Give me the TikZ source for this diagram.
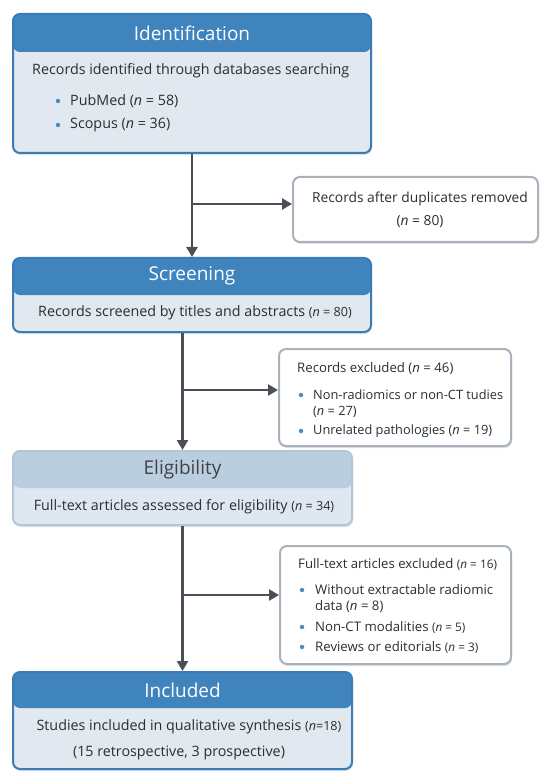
\documentclass[tikz,border=0pt]{standalone}
\usepackage{fontspec}
\setmainfont{Open Sans}
\usetikzlibrary{arrows.meta}
\definecolor{hdrblue}{HTML}{3F84BD}
\definecolor{bodyblue}{HTML}{E1E8F0}
\definecolor{edgeblue}{HTML}{3A7DB6}
\definecolor{hdrgray}{HTML}{BBCEE0}
\definecolor{bodygray}{HTML}{DFE7F0}
\definecolor{edgegray}{HTML}{B3C6D8}
\definecolor{sideedge}{HTML}{A9B2BB}
\definecolor{arrowc}{HTML}{4B5057}
\definecolor{txt}{HTML}{2A2E33}
\definecolor{dotc}{HTML}{4A8CC4}
\definecolor{shadowc}{HTML}{C9CFD6}
\newcommand{\sm}[1]{{\fontsize{12.6}{15}\selectfont #1}}
\newcommand{\ssm}[1]{{\fontsize{11.8}{14}\selectfont #1}}
\begin{document}
\begin{tikzpicture}[x=1pt,y=-1pt,
  shad/.style={preaction={fill=shadowc, opacity=0.6, transform canvas={xshift=1pt,yshift=-2pt}}},
  mainbox/.style={shad, draw=edgeblue, line width=2pt, fill=bodyblue, rounded corners=7pt, inner sep=0pt,
    path picture={\fill[hdrblue] (path picture bounding box.north west) rectangle ([yshift=-#1]path picture bounding box.north east);}},
  mainbox/.default=38pt,
  eligbox/.style={shad, draw=edgegray, line width=2pt, fill=bodygray, rounded corners=7pt, inner sep=0pt,
    path picture={\fill[hdrgray] (path picture bounding box.north west) rectangle ([yshift=-37pt]path picture bounding box.north east);}},
  sidebox/.style={shad, draw=sideedge, line width=2pt, fill=white, rounded corners=7pt, inner sep=0pt},
  hdr/.style={text=white, font=\fontsize{19}{22}\selectfont},
  hdrdark/.style={text=txt!90, font=\fontsize{19}{22}\selectfont},
  body/.style={text=txt, font=\fontsize{14.3}{17}\selectfont, inner sep=0pt},
  side/.style={text=txt, font=\fontsize{13.2}{16}\selectfont, inner sep=0pt},
  lbl/.style={side, anchor=west},
  bul/.style={circle, fill=dotc, inner sep=0pt, minimum size=4.5pt},
  flow/.style={draw=arrowc, line width=2.6pt, -{Triangle[length=10pt,width=11pt]}},
]
\useasboundingbox (0,0) rectangle (550,783);

% Identification
\node[mainbox, minimum width=358pt, minimum height=139pt] (idb) at (192,83.5) {};
\node[hdr] (idh) at (192,33) {Identification};
\node[body, anchor=west] (idt) at (32,71) {Records identified through databases searching};
\node[bul] (idd1) at (58,101) {};
\node[body, anchor=west] (idl1) at (70,101) {PubMed (\textit{n} = 58)};
\node[bul] (idd2) at (58,125) {};
\node[body, anchor=west] (idl2) at (70,125) {Scopus (\textit{n} = 36)};

% Duplicates
\node[sidebox, minimum width=245pt, minimum height=65pt] (dup) at (415.5,209.5) {};
\node[body, font=\fontsize{13.8}{16}\selectfont] (dupt) at (420,199) {Records after duplicates removed};
\node[body, font=\fontsize{13.8}{16}\selectfont] (dupn) at (420,222) {(\textit{n} = 80)};

% Screening
\node[mainbox=37pt, minimum width=358pt, minimum height=74pt] (scr) at (192,295) {};
\node[hdr] (scrh) at (192,276) {Screening};
\node[body] (scrt) at (195,313) {Records screened by titles and abstracts \sm{(\textit{n} = 80)}};

% Records excluded
\node[sidebox, minimum width=232pt, minimum height=97pt] (rex) at (395,397.5) {};
\node[lbl] (rext) at (297,369) {Records excluded (\textit{n} = 46)};
\node[bul] (rexd1) at (301,395) {};
\node[lbl, font=\fontsize{12.8}{15}\selectfont] (rexl1) at (313,395) {Non-radiomics or non-CT tudies};
\node[lbl, font=\fontsize{12.8}{15}\selectfont] (rexl1b) at (313,412) {(\textit{n} = 27)};
\node[bul] (rexd2) at (301,431) {};
\node[lbl, font=\fontsize{12.8}{15}\selectfont] (rexl2) at (313,431) {Unrelated pathologies (\textit{n} = 19)};

% Eligibility
\node[eligbox, minimum width=339pt, minimum height=74pt] (eli) at (182.5,488) {};
\node[hdrdark] (elih) at (182.5,470) {Eligibility};
\node[body] (elit) at (184,507) {Full-text articles assessed for eligibility \sm{(\textit{n} = 34)}};

% Full-text excluded
\node[sidebox, minimum width=231pt, minimum height=118pt] (fex) at (395.5,605) {};
\node[lbl] (fext) at (298,564) {Full-text articles excluded \ssm{(\textit{n} = 16)}};
\node[bul] (fexd1) at (302,590) {};
\node[lbl] (fexl1) at (315,590) {Without extractable radiomic};
\node[lbl] (fexl1b) at (315,607) {data (\textit{n} = 8)};
\node[bul] (fexd2) at (302,627) {};
\node[lbl] (fexl2) at (315,627) {Non-CT modalities \ssm{(\textit{n} = 5)}};
\node[bul] (fexd3) at (302,647) {};
\node[lbl] (fexl3) at (315,647) {Reviews or editorials \ssm{(\textit{n} = 3)}};

% Included
\node[mainbox=36pt, minimum width=339pt, minimum height=97pt] (inc) at (182.5,720.5) {};
\node[hdr] (inch) at (182.5,690) {Included};
\node[body] (inct) at (189,727) {Studies included in qualitative synthesis \sm{(\textit{n}=18)}};
\node[body] (inct2) at (179,753) {(15 retrospective, 3 prospective)};

% Connectors
\coordinate (b1) at (192,204);
\coordinate (b2) at (182.5,390);
\coordinate (b3) at (182.5,595);
\draw[flow] (idb.south) -- (scr.north);
\draw[flow] (b1) -- (b1 -| dup.west);
\draw[flow] (scr.south -| eli.north) -- (eli.north);
\draw[flow] (b2) -- (b2 -| rex.west);
\draw[flow] (eli.south) -- (inc.north);
\draw[flow] (b3) -- (b3 -| fex.west);
\end{tikzpicture}
\end{document}
